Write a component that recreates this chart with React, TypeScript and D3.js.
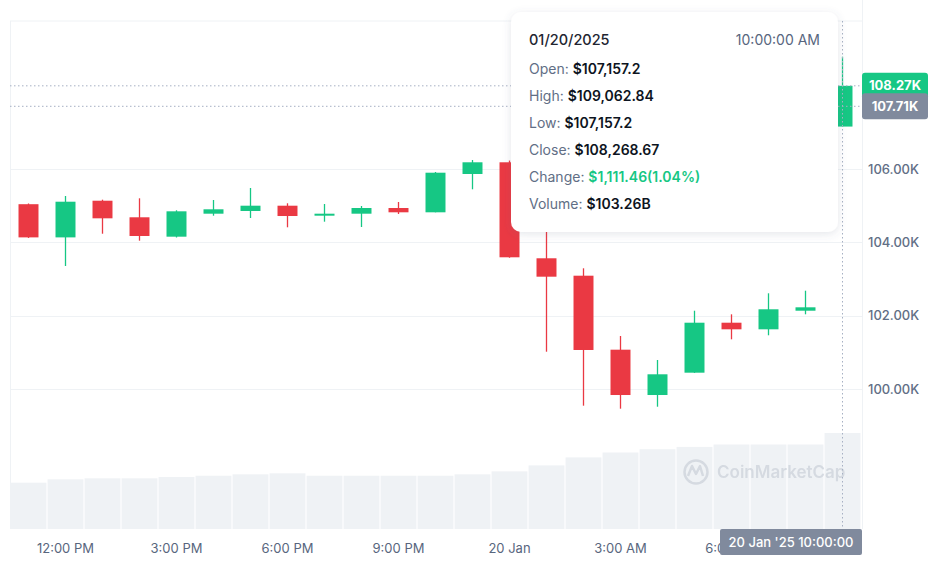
import React from "react";
import * as d3 from "d3";

const opens = [105040, 104135, 105135, 104683, 104154, 104781, 104855, 104999, 104737, 104781, 104936, 104819, 105864, 106183, 103565, 103090, 101072, 99836, 100445, 101808, 101628, 102135, 107157.2];
const highs = [105060, 105264, 105163, 105201, 104874, 105155, 105482, 105065, 105045, 104991, 105100, 105918, 106245, 106230, 104664, 103292, 101445, 100791, 102135, 102037, 102610, 102681, 109062.84];
const lows = [104120, 103355, 104235, 104045, 104132, 104726, 104664, 104410, 104563, 104418, 104773, 104819, 105446, 103580, 101017, 99545, 99463, 99517, 100440, 101355, 101465, 102037, 107157.2];
const closes = [104135, 105108, 104655, 104173, 104846, 104901, 104999, 104718, 104781, 104936, 104819, 105899, 106183, 103592, 103063, 101064, 99836, 100401, 101808, 101628, 102174, 102228, 108268.67];
const volumes = [49.8, 53.4, 54.5, 54.5, 55.9, 57.3, 58.8, 59.9, 57.3, 57.3, 57.3, 57.3, 58.8, 62.0, 68.4, 77.0, 82.3, 85.8, 88.3, 90.9, 90.9, 90.9, 103.26];

const xTickLabels = ["12:00 PM", "3:00 PM", "6:00 PM", "9:00 PM", "20 Jan", "3:00 AM", "6:00 AM"];
const xTickIndex = [1, 4, 7, 10, 13, 16, 19];
const yTicks = [100000, 102000, 104000, 106000];

const lastPrice = 108268.67;
const crossPrice = 107710;
const crossIndex = 22;
const crossLabel = "20 Jan '25 10:00:00";

const tooltipDate = "01/20/2025";
const tooltipTime = "10:00:00 AM";
const tooltipLabels = ["Open:", "High:", "Low:", "Close:", "Change:", "Volume:"];
const tooltipValues = ["$107,157.2", "$109,062.84", "$107,157.2", "$108,268.67", "$1,111.46(1.04%)", "$103.26B"];

const GREEN = "#16c784";
const RED = "#ea3943";
const FONT = "Inter, 'Noto Sans', sans-serif";

export default function App() {
  const W = 944, H = 571;
  const left = 10, right = 861, top = 21, bottom = 529;
  const idx = d3.range(opens.length);
  const x = d3.scaleBand<number>().domain(idx).range([left, right]).paddingInner(0.46).paddingOuter(0.23);
  const xv = d3.scaleBand<number>().domain(idx).range([left, right]).paddingInner(0.03).paddingOuter(0.015);
  const y = d3.scaleLinear().domain([100000, 106000]).range([389, 169]);
  const yv = d3.scaleLinear().domain([0, 103.26]).range([bottom, 433]);
  const fmtK = (v: number) => (v / 1000).toFixed(2) + "K";
  const cx = (i: number) => (x(i) as number) + x.bandwidth() / 2;

  return (
    <svg width={W} height={H} style={{ position: "absolute", left: 0, top: 0, background: "#fff" }} fontFamily={FONT}>
      <defs>
        <filter id="sh" x="-10%" y="-10%" width="120%" height="130%">
          <feDropShadow dx="0" dy="2" stdDeviation="4" floodColor="#58667e" floodOpacity="0.16" />
        </filter>
      </defs>
      {/* frame */}
      <line x1={left} x2={right + 1} y1={top} y2={top} stroke="#eff2f5" />
      <line x1={left + 0.5} x2={left + 0.5} y1={top} y2={bottom} stroke="#eff2f5" />
      <line x1={right + 1.5} x2={right + 1.5} y1={0} y2={bottom} stroke="#eff2f5" />
      {/* grid */}
      {yTicks.map((t) => (
        <g key={t}>
          <line x1={left} x2={right + 1} y1={Math.round(y(t)) + 0.5} y2={Math.round(y(t)) + 0.5} stroke="#eff2f5" />
          <text x={868} y={y(t)} dy="0.35em" fontSize={13} fill="#616e85" fontWeight={500}>{fmtK(t)}</text>
        </g>
      ))}
      {/* volume */}
      {volumes.map((v, i) => (
        <rect key={i} x={xv(i)} y={yv(v)} width={xv.bandwidth()} height={bottom - yv(v)} fill="#eff2f5" />
      ))}
      {/* watermark */}
      <g opacity={0.9}>
        <circle cx={696} cy={472} r={11.5} fill="none" stroke="#d3d8df" strokeWidth={2.5} />
        <path d="M688,476 L692,466 L696,474 L700,466 L703,476" fill="none" stroke="#d3d8df" strokeWidth={2.5} strokeLinejoin="round" />
        <text x={717} y={478} fontSize={17} fontWeight={600} fill="#d3d8df">CoinMarketCap</text>
      </g>
      {/* candles */}
      {idx.map((i) => {
        const up = closes[i] >= opens[i];
        const c = up ? GREEN : RED;
        const yt = y(Math.max(opens[i], closes[i]));
        const yb = y(Math.min(opens[i], closes[i]));
        return (
          <g key={i}>
            <line x1={cx(i)} x2={cx(i)} y1={y(highs[i])} y2={y(lows[i])} stroke={c} strokeWidth={1.3} />
            <rect x={x(i)} y={yt} width={x.bandwidth()} height={Math.max(2, yb - yt)} fill={c} />
          </g>
        );
      })}
      {/* crosshair */}
      <line x1={cx(crossIndex)} x2={cx(crossIndex)} y1={top} y2={bottom} stroke="#a6b0c3" strokeDasharray="1.5,2.5" />
      <line x1={left} x2={right} y1={y(lastPrice)} y2={y(lastPrice)} stroke="#a6b0c3" strokeDasharray="1.5,2.5" />
      <line x1={left} x2={right} y1={y(crossPrice)} y2={y(crossPrice)} stroke="#a6b0c3" strokeDasharray="1.5,2.5" />
      {/* price labels */}
      <rect x={862} y={y(lastPrice) - 13} width={66} height={26} rx={3} fill={GREEN} />
      <text x={895} y={y(lastPrice)} dy="0.35em" textAnchor="middle" fontSize={13} fontWeight={700} fill="#fff">{fmtK(lastPrice)}</text>
      <rect x={862} y={y(crossPrice) - 13} width={66} height={26} rx={3} fill="#808a9d" />
      <text x={895} y={y(crossPrice)} dy="0.35em" textAnchor="middle" fontSize={13} fontWeight={700} fill="#fff">{fmtK(crossPrice)}</text>
      {/* x axis */}
      {xTickLabels.map((t, k) => (
        <text key={t} x={cx(xTickIndex[k])} y={548} dy="0.35em" textAnchor="middle" fontSize={13} fill="#58667e">{t}</text>
      ))}
      <rect x={720} y={529} width={142} height={26} rx={2} fill="#808a9d" />
      <text x={791} y={542} dy="0.35em" textAnchor="middle" fontSize={13} fontWeight={500} fill="#fff">{crossLabel}</text>
      {/* tooltip */}
      <rect x={511} y={12} width={327} height={220} rx={10} fill="#fff" filter="url(#sh)" />
      <text x={529} y={40} dy="0.35em" fontSize={14.5} fontWeight={500} fill="#222531">{tooltipDate}</text>
      <text x={820} y={40} dy="0.35em" textAnchor="end" fontSize={14} fill="#58667e">{tooltipTime}</text>
      {tooltipLabels.map((l, k) => (
        <text key={l} x={529} y={69 + k * 27} dy="0.35em" fontSize={14}>
          <tspan fill="#616e85">{l} </tspan>
          <tspan fontWeight={600} fill={k === 4 ? GREEN : "#0d1421"}>{tooltipValues[k]}</tspan>
        </text>
      ))}
    </svg>
  );
}
